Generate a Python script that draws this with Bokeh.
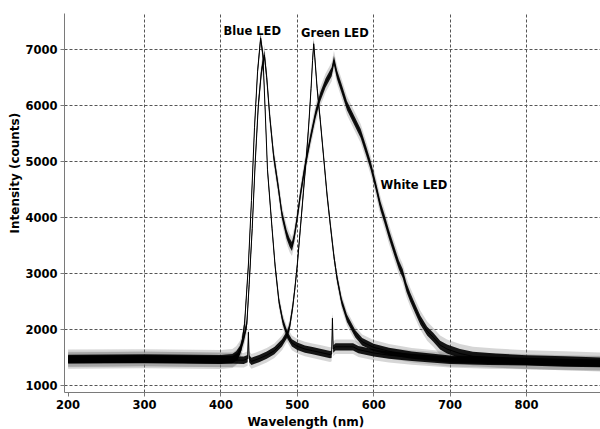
import numpy as np
from bokeh.plotting import figure
from bokeh.models import Range1d, FixedTicker, Label, Title
from bokeh.embed import file_html
from bokeh.resources import INLINE

# ---- data (wavelength nm, intensity counts) ----
blue_wl = [200, 250, 300, 350, 400, 415, 422, 427, 431, 436, 440, 444, 448, 452, 455, 458, 461,
           467, 471, 476, 481, 487, 493, 500, 510, 520, 530, 543, 545, 546, 547, 550, 560, 573,
           580, 600, 620, 650, 700, 750, 800, 850, 897]
blue_counts = [1470, 1470, 1475, 1465, 1455, 1460, 1520, 1700, 2100, 3150, 4300, 5600, 6600, 7200,
               6900, 5900, 4850, 3800, 3130, 2500, 2150, 1900, 1760, 1700, 1650, 1620, 1590, 1550,
               1560, 2200, 1650, 1690, 1690, 1690, 1640, 1580, 1540, 1500, 1450, 1430, 1420, 1400, 1390]

green_wl = [200, 300, 400, 430, 435, 436, 437, 440, 450, 460, 470, 480, 487, 490, 494, 497, 500,
            504, 508, 512, 515, 518, 520, 521.5, 523, 526, 530, 535, 539, 543, 548, 552, 558, 565,
            576, 585, 600, 620, 650, 700, 750, 800, 850, 897]
green_counts = [1460, 1470, 1460, 1450, 1480, 1950, 1480, 1430, 1480, 1540, 1620, 1760, 1920, 2050,
                2400, 2750, 3150, 3800, 4450, 5100, 5650, 6300, 6800, 7100, 6850, 6300, 5750, 5000,
                4400, 3900, 3300, 2920, 2500, 2200, 1920, 1780, 1680, 1610, 1540, 1470, 1450, 1430,
                1410, 1400]

white_wl = [200, 300, 400, 415, 420, 425, 430, 434, 437, 441, 445, 449, 453, 457, 460, 464, 469,
            475, 480, 486, 490, 493, 496, 500, 504, 510, 517, 524, 530, 537, 545, 548, 552, 558,
            565, 574, 583, 590, 596, 603, 609, 614, 620, 627, 633, 638, 643, 648, 656, 661, 670,
            678, 687, 696, 713, 730, 760, 800, 850, 897]
white_counts = [1470, 1475, 1465, 1480, 1530, 1630, 1850, 2100, 2800, 3800, 5000, 6000, 6600, 6900,
                6500, 5800, 5100, 4550, 4050, 3700, 3550, 3480, 3650, 4000, 4400, 4900, 5400, 5850,
                6150, 6400, 6600, 6800, 6550, 6300, 6000, 5750, 5500, 5200, 4930, 4550, 4200, 3980,
                3700, 3400, 3150, 3000, 2750, 2570, 2320, 2170, 1970, 1860, 1720, 1650, 1570, 1520,
                1490, 1460, 1440, 1420]

# scatter of the noisy traces (half-widths, counts)
noise_core = {"blue": 65, "green": 65, "white": 80}
noise_spike = {"blue": 130, "green": 130, "white": 170}

x_ticks = [200, 300, 400, 500, 600, 700, 800]
y_ticks = [1000, 2000, 3000, 4000, 5000, 6000, 7000]

labels = [("Blue LED", 403.5, 7330), ("Green LED", 505.0, 7285), ("White LED", 609.0, 4575)]

FONT = "DejaVu Sans"

p = figure(width=600, height=429, output_backend="svg", toolbar_location=None,
           x_range=Range1d(195.3, 896.9), y_range=Range1d(874, 7641),
           min_border_left=64, min_border_right=0, min_border_top=13, min_border_bottom=33)
p.outline_line_color = None
p.background_fill_color = "white"
p.border_fill_color = "white"

series = [("blue", blue_wl, blue_counts), ("green", green_wl, green_counts),
          ("white", white_wl, white_counts)]

for name, wl, cnt in series:
    c = np.array(cnt, dtype=float)
    p.varea(x=wl, y1=c - noise_spike[name], y2=c + noise_spike[name],
            fill_color="#777777", fill_alpha=0.3)
for name, wl, cnt in series:
    c = np.array(cnt, dtype=float)
    p.varea(x=wl, y1=c - noise_core[name], y2=c + noise_core[name],
            fill_color="black", fill_alpha=0.9)
for name, wl, cnt in series:
    p.line(wl, cnt, line_color="black", line_width=1)

# axes
for ax in (p.xaxis[0], p.yaxis[0]):
    ax.axis_line_color = "#7a7a7a"
    ax.major_tick_line_color = "#7a7a7a"
    ax.major_tick_out = 4
    ax.major_tick_in = 0
    ax.minor_tick_line_color = None
    ax.major_label_text_font = FONT
    ax.major_label_text_font_style = "bold"
    ax.major_label_text_font_size = "11.5px"
    ax.major_label_text_color = "black"
p.xaxis.ticker = FixedTicker(ticks=x_ticks)
p.yaxis.ticker = FixedTicker(ticks=y_ticks)
p.xaxis.major_label_standoff = 3
p.yaxis.major_label_standoff = 3

p.xgrid.ticker = FixedTicker(ticks=x_ticks[1:])
p.ygrid.ticker = FixedTicker(ticks=y_ticks)
for g in (p.xgrid[0], p.ygrid[0]):
    g.grid_line_color = "#555555"
    g.grid_line_dash = "3 2"
    g.grid_line_width = 1

for txt, lx, ly in labels:
    p.add_layout(Label(x=lx, y=ly, text=txt, text_font=FONT, text_font_style="bold",
                       text_font_size="11.5px", text_align="left", text_baseline="alphabetic",
                       text_color="black"))

p.add_layout(Title(text="Intensity (counts)", align="left", offset=159, standoff=2,
                   text_font=FONT, text_font_style="bold", text_font_size="12px",
                   text_color="black"), "left")
p.add_layout(Title(text="Wavelength (nm)", align="left", offset=183, standoff=2,
                   text_font=FONT, text_font_style="bold", text_font_size="12px",
                   text_color="black"), "below")

open("out.html", "w").write(file_html(p, INLINE))
